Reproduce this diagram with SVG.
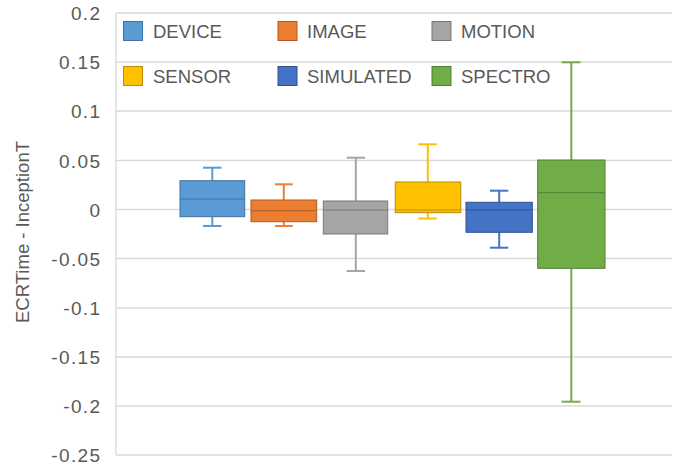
<svg xmlns="http://www.w3.org/2000/svg" width="683" height="465" viewBox="0 0 683 465">
<style>
text{font-family:"Liberation Sans",Arial,sans-serif;fill:#595959}
.tick{font-size:19px;text-anchor:end;letter-spacing:1.4px}
.leg{font-size:18.5px}
.grid{stroke:#d9d9d9;stroke-width:1.3}
.w{fill:none;stroke-width:2}
</style>
<rect width="683" height="465" fill="#fff"/>
<g id="grid">
<line class="grid" x1="116" y1="13" x2="672" y2="13"/>
<line class="grid" x1="116" y1="62" x2="672" y2="62"/>
<line class="grid" x1="116" y1="111" x2="672" y2="111"/>
<line class="grid" x1="116" y1="160.5" x2="672" y2="160.5"/>
<line class="grid" x1="116" y1="209.5" x2="672" y2="209.5"/>
<line class="grid" x1="116" y1="258.5" x2="672" y2="258.5"/>
<line class="grid" x1="116" y1="308" x2="672" y2="308"/>
<line class="grid" x1="116" y1="357" x2="672" y2="357"/>
<line class="grid" x1="116" y1="406" x2="672" y2="406"/>
<line class="grid" x1="116" y1="455" x2="672" y2="455"/>
<line class="grid" x1="116" y1="13" x2="116" y2="455"/>
</g>
<g id="yaxis">
<text class="tick" x="101.5" y="20">0.2</text>
<text class="tick" x="101.5" y="69">0.15</text>
<text class="tick" x="101.5" y="118">0.1</text>
<text class="tick" x="101.5" y="167.5">0.05</text>
<text class="tick" x="101.5" y="216.5">0</text>
<text class="tick" x="101.5" y="265.5">-0.05</text>
<text class="tick" x="101.5" y="315">-0.1</text>
<text class="tick" x="101.5" y="364">-0.15</text>
<text class="tick" x="101.5" y="413">-0.2</text>
<text class="tick" x="101.5" y="462">-0.25</text>
<text x="29" y="232" font-size="18.5" text-anchor="middle" transform="rotate(-90 29 232)">ECRTime - InceptionT</text>
</g>
<g id="connectors">
<g id="w-device" class="w" stroke="#5B9BD5">
<line x1="212.3" y1="167.7" x2="212.3" y2="180.7"/><line x1="203" y1="167.7" x2="221.5" y2="167.7"/>
<line x1="212.3" y1="216.7" x2="212.3" y2="226"/><line x1="203" y1="226" x2="221.5" y2="226"/>
</g>
<g id="w-image" class="w" stroke="#ED7D31">
<line x1="283.8" y1="184.3" x2="283.8" y2="200"/><line x1="275" y1="184.3" x2="292.7" y2="184.3"/>
<line x1="283.8" y1="221.7" x2="283.8" y2="226"/><line x1="275" y1="226" x2="292.7" y2="226"/>
</g>
<g id="w-motion" class="w" stroke="#A5A5A5">
<line x1="355.8" y1="157.7" x2="355.8" y2="201"/><line x1="346.7" y1="157.7" x2="365" y2="157.7"/>
<line x1="355.8" y1="234" x2="355.8" y2="271"/><line x1="346.7" y1="271" x2="365" y2="271"/>
</g>
<g id="w-sensor" class="w" stroke="#FFC000">
<line x1="427.8" y1="144.3" x2="427.8" y2="182"/><line x1="418.3" y1="144.3" x2="436.7" y2="144.3"/>
<line x1="427.8" y1="212.7" x2="427.8" y2="218.5"/><line x1="418.3" y1="218.5" x2="436.7" y2="218.5"/>
</g>
<g id="w-simulated" class="w" stroke="#4472C4">
<line x1="499.2" y1="190.7" x2="499.2" y2="202.3"/><line x1="490" y1="190.7" x2="508.3" y2="190.7"/>
<line x1="499.2" y1="232.3" x2="499.2" y2="247.7"/><line x1="490" y1="247.7" x2="508.3" y2="247.7"/>
</g>
<g id="w-spectro" class="w" stroke="#70AD47">
<line x1="571.3" y1="62.3" x2="571.3" y2="160"/><line x1="561.5" y1="62.3" x2="580.5" y2="62.3"/>
<line x1="571.3" y1="268.3" x2="571.3" y2="401.7"/><line x1="561.5" y1="401.7" x2="580.5" y2="401.7"/>
</g>
</g>
<g id="device">
<rect x="180" y="180.7" width="64.7" height="36" fill="#5B9BD5" stroke="#41719C" stroke-width="1"/>
<line x1="180" y1="199" x2="244.7" y2="199" stroke="#41719C" stroke-width="1"/>
</g>
<g id="image">
<rect x="251" y="200" width="65.7" height="21.7" fill="#ED7D31" stroke="#AE5A21" stroke-width="1"/>
<line x1="251" y1="210.7" x2="316.7" y2="210.7" stroke="#AE5A21" stroke-width="1"/>
</g>
<g id="motion">
<rect x="323.3" y="201" width="64.4" height="33" fill="#A5A5A5" stroke="#787878" stroke-width="1"/>
<line x1="323.3" y1="210" x2="387.7" y2="210" stroke="#787878" stroke-width="1"/>
</g>
<g id="sensor">
<rect x="395.3" y="182" width="65.5" height="30.7" fill="#FFC000" stroke="#BC8C00" stroke-width="1"/>
<line x1="395.3" y1="210" x2="460.8" y2="210" stroke="#BC8C00" stroke-width="1"/>
</g>
<g id="simulated">
<rect x="466" y="202.3" width="66.3" height="30" fill="#4472C4" stroke="#2F528F" stroke-width="1"/>
<line x1="466" y1="210" x2="532.3" y2="210" stroke="#2F528F" stroke-width="1"/>
</g>
<g id="spectro">
<rect x="537.7" y="160" width="67.3" height="108.3" fill="#70AD47" stroke="#507E32" stroke-width="1"/>
<line x1="537.7" y1="192.7" x2="605" y2="192.7" stroke="#507E32" stroke-width="1"/>
</g>
<g id="legend">
<rect x="123.5" y="21.5" width="19" height="19" fill="#5B9BD5" stroke="#41719C"/>
<text class="leg" x="153" y="38">DEVICE</text>
<rect x="278" y="21.5" width="19" height="19" fill="#ED7D31" stroke="#AE5A21"/>
<text class="leg" x="307" y="38">IMAGE</text>
<rect x="432" y="21.5" width="19" height="19" fill="#A5A5A5" stroke="#787878"/>
<text class="leg" x="461" y="38">MOTION</text>
<rect x="123.5" y="66.5" width="19" height="19" fill="#FFC000" stroke="#BC8C00"/>
<text class="leg" x="153" y="83">SENSOR</text>
<rect x="278" y="66.5" width="19" height="19" fill="#4472C4" stroke="#2F528F"/>
<text class="leg" x="307" y="83">SIMULATED</text>
<rect x="432" y="66.5" width="19" height="19" fill="#70AD47" stroke="#507E32"/>
<text class="leg" x="461" y="83">SPECTRO</text>
</g>
</svg>
